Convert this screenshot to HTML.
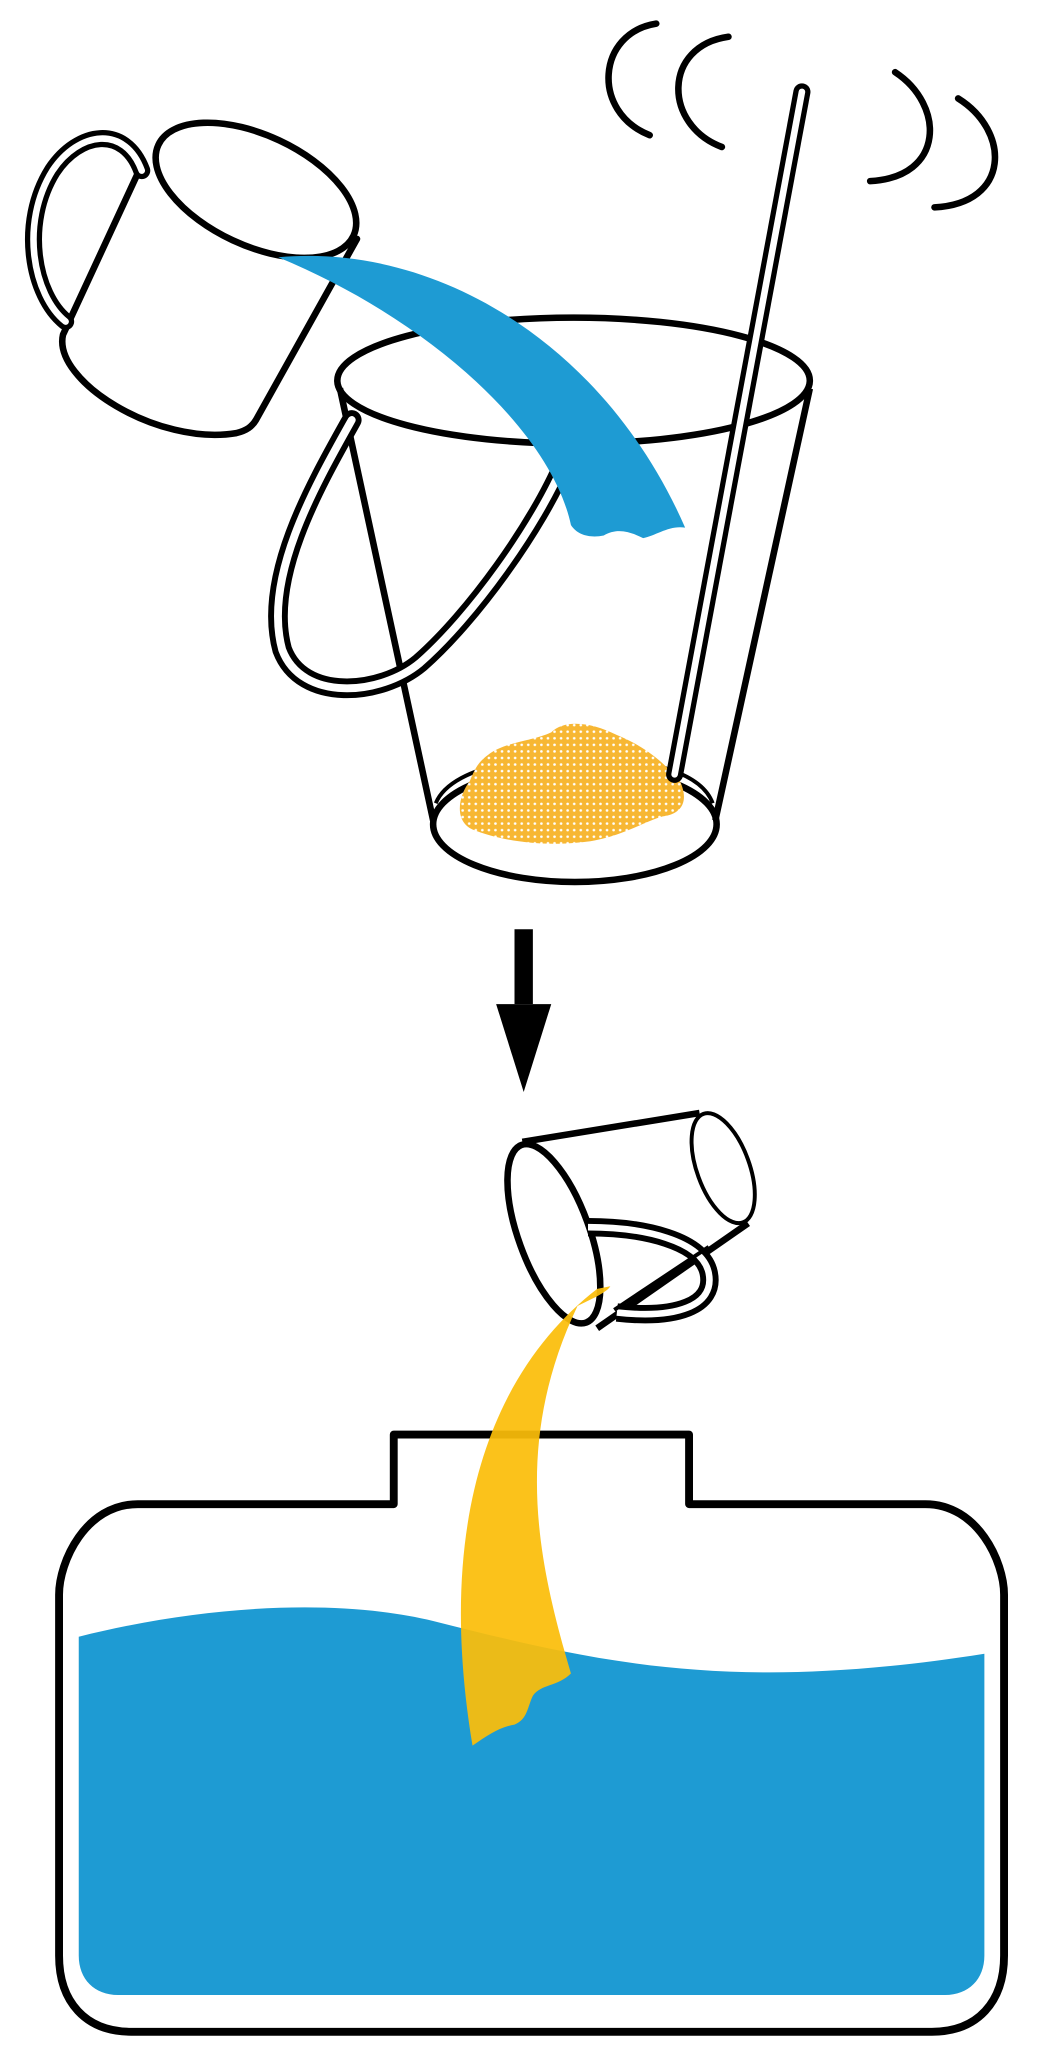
<!DOCTYPE html>
<html><head><meta charset="utf-8"><style>html,body{margin:0;padding:0;background:#fff}svg{display:block}</style></head>
<body>
<svg width="1050" height="2064" viewBox="0 0 800 1572.57" preserveAspectRatio="none" xmlns="http://www.w3.org/2000/svg">
<defs>
<pattern id="dots" width="5" height="5" patternUnits="userSpaceOnUse">
<rect width="5" height="5" fill="#F7B733"/><circle cx="2.5" cy="2.5" r="1" fill="#fff"/>
</pattern>
</defs>
<g fill="none" stroke="#000" stroke-width="5" stroke-linecap="round" stroke-linejoin="round">
<path d="M500,18 C455,25 450,85 495,103"/>
<path d="M555,28 C505,35 505,95 550,112"/>
<path d="M682,55 C720,80 720,135 663,138"/>
<path d="M730,75 C770,100 770,155 712,158"/>
<ellipse cx="195" cy="145" rx="82" ry="42" transform="rotate(25 195 145)"/>
<path d="M105,132 L48,255 C40,290 120,340 180,330 C188,328 192,325 195,320 L272,182"/>
</g>
<path d="M108,130 C95,95 60,100 40,130 C15,170 25,225 50,245" fill="none" stroke="#000" stroke-width="13" stroke-linecap="round"/>
<path d="M108,130 C95,95 60,100 40,130 C15,170 25,225 50,245" fill="none" stroke="#fff" stroke-width="5" stroke-linecap="round"/>
<g fill="none" stroke="#000" stroke-width="5" stroke-linejoin="round">
<ellipse cx="437" cy="290" rx="180" ry="48"/>
<line x1="259" y1="296" x2="330" y2="625"/>
<line x1="617" y1="296" x2="545" y2="625"/>
<ellipse cx="438" cy="628" rx="108" ry="44"/>
<path d="M332,612 C345,580 420,575 440,577 C500,578 535,590 543,612" stroke-width="3"/>
</g>
<path d="M372,575 C385,565 405,565 420,558 C430,548 450,550 470,560 C490,568 505,580 518,595 C525,610 520,620 505,622 C490,626 470,640 440,642 C410,645 380,640 360,632 C345,625 350,605 358,595 C362,585 365,580 372,575Z" fill="url(#dots)"/>
<path d="M611,70 L514,590" stroke="#000" stroke-width="13" stroke-linecap="round"/>
<path d="M611,70 L514,590" stroke="#fff" stroke-width="5" stroke-linecap="round"/>
<path d="M268,320 C240,370 200,440 215,495 C230,535 290,530 320,505 C360,470 410,400 430,352" fill="none" stroke="#000" stroke-width="15" stroke-linecap="round"/>
<path d="M268,320 C240,370 200,440 215,495 C230,535 290,530 320,505 C360,470 410,400 430,352" fill="none" stroke="#fff" stroke-width="6" stroke-linecap="round"/>
<path d="M212,196 C330,185 460,260 522,402 C510,400 500,408 490,410 C480,405 470,402 460,408 C450,410 440,408 435,400 C420,330 330,245 212,196Z" fill="#1E9BD3"/>
<rect x="392" y="708" width="14" height="57" fill="#000"/>
<polygon points="378,765 420,765 399,832" fill="#000"/>
<g fill="none" stroke="#000" stroke-width="5" stroke-linejoin="round">
<path d="M398,870 L533,848"/>
<path d="M455,1012 L570,932"/>
<ellipse cx="551" cy="890" rx="20" ry="44" transform="rotate(-20 551 890)" stroke-width="3"/>
<ellipse cx="422" cy="940" rx="27" ry="72" transform="rotate(-20 422 940)"/>
</g>
<path d="M448,935 C490,935 535,945 540,970 C545,995 515,1005 470,1000" fill="none" stroke="#000" stroke-width="14"/>
<path d="M448,935 C490,935 535,945 540,970 C545,995 515,1005 470,1000" fill="none" stroke="#fff" stroke-width="5"/>
<path d="M468,998 L540,950" stroke="#000" stroke-width="3"/>
<path d="M60,1247 C160,1222 260,1218 330,1235 C460,1268 560,1290 750,1260 L750,1490 C750,1508 738,1520 720,1520 L90,1520 C72,1520 60,1508 60,1490 Z" fill="#1E9BD3"/>
<path d="M300,1093 L525,1093 L525,1146 L705,1146 C745,1146 765,1190 765,1215 L765,1490 C765,1525 745,1548 710,1548 L100,1548 C65,1548 45,1525 45,1490 L45,1215 C45,1190 65,1146 105,1146 L300,1146 Z" fill="none" stroke="#000" stroke-width="6" stroke-linejoin="round"/>
<path d="M455,982 C380,1040 330,1150 360,1330 C372,1322 380,1316 392,1314 C402,1310 402,1300 406,1292 C412,1283 425,1285 435,1275 C410,1190 390,1100 440,995 C450,990 462,985 465,980Z" fill="#FBBD0A" opacity="0.93"/>
</svg>
</body></html>
